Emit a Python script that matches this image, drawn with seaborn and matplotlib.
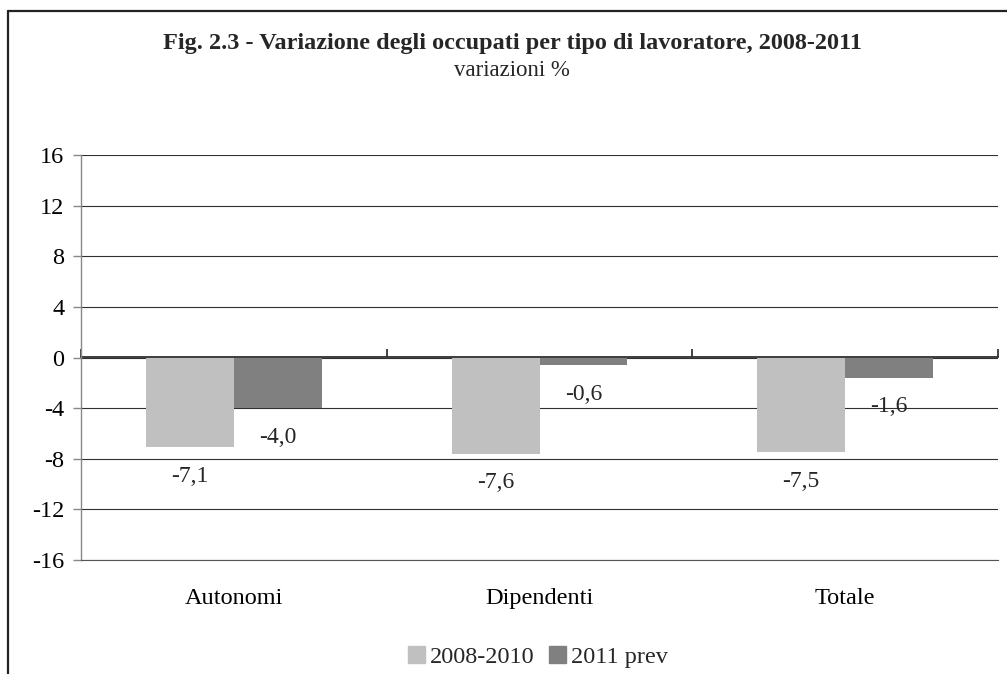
import pandas as pd
import matplotlib
matplotlib.use("Agg")
import matplotlib.pyplot as plt
from matplotlib.lines import Line2D
import seaborn as sns

categories = ["Autonomi", "Dipendenti", "Totale"]
series = ["2008-2010", "2011 prev"]
values_2008_2010 = [-7.1, -7.6, -7.5]
values_2011_prev = [-4.0, -0.6, -1.6]
y_ticks = [-16, -12, -8, -4, 0, 4, 8, 12, 16]

colors = {"2008-2010": "#c0c0c0", "2011 prev": "#808080"}


def main():
    df = pd.DataFrame({
        "categoria": categories * 2,
        "serie": [series[0]] * 3 + [series[1]] * 3,
        "valore": values_2008_2010 + values_2011_prev,
    })

    sns.set_theme(style="white")
    plt.rcParams["font.family"] = ["Liberation Serif", "DejaVu Serif"]

    fig = plt.figure(figsize=(10.07, 6.74), dpi=100)
    ax = fig.add_axes([81 / 1007, 1 - 560 / 674, (998 - 81) / 1007, (560 - 155) / 674])

    sns.barplot(data=df, x="categoria", y="valore", hue="serie", order=categories,
                hue_order=series, palette=colors, width=0.575, saturation=1,
                edgecolor="none", linewidth=0, ax=ax, legend=False, zorder=3)

    ax.set_xlim(-0.5, 2.5)
    ax.set_ylim(-16, 16)
    ax.set_yticks(y_ticks)
    ax.set_yticklabels([str(t) for t in y_ticks])
    ax.yaxis.grid(True, color="#303030", linewidth=0.8, zorder=0)
    ax.xaxis.grid(False)
    ax.set_xlabel("")
    ax.set_ylabel("")

    for s in ["top", "right"]:
        ax.spines[s].set_visible(False)
    ax.spines["bottom"].set_color("#555555")
    ax.spines["bottom"].set_linewidth(0.8)
    ax.spines["left"].set_color("#888888")
    ax.spines["left"].set_linewidth(1.0)

    ax.tick_params(axis="y", which="both", left=True, length=6, width=1,
                   color="#888888", labelsize=17.5, pad=6, labelcolor="black")
    ax.tick_params(axis="x", which="both", bottom=False, labelsize=17.5,
                   pad=14, labelcolor="black")

    # asse delle categorie sullo zero
    sec = ax.secondary_xaxis(0.5)
    sec.set_xticks([-0.5, 0.5, 1.5, 2.5])
    sec.set_xticklabels([])
    sec.spines["bottom"].set_color("#888888")
    sec.spines["bottom"].set_linewidth(1.5)
    sec.tick_params(axis="x", direction="out", length=6, width=1.2, color="#222222")

    # etichette dei valori
    for container in ax.containers:
        for bar in container:
            h = bar.get_height()
            ax.annotate(f"{h:.1f}".replace(".", ","),
                        (bar.get_x() + bar.get_width() / 2, h),
                        xytext=(0, -21), textcoords="offset points",
                        ha="center", va="center", fontsize=17, zorder=5)

    fig.text(512 / 1007, 1 - 43 / 674,
             "Fig. 2.3 - Variazione degli occupati per tipo di lavoratore, 2008-2011",
             ha="center", va="center", fontsize=17.5, fontweight="bold")
    fig.text(512 / 1007, 1 - 71 / 674, "variazioni %",
             ha="center", va="center", fontsize=16.5)

    handles = [plt.Rectangle((0, 0), 1, 1, color=colors[s]) for s in series]
    fig.legend(handles, series, loc="center", bbox_to_anchor=(538 / 1007, 1 - 657 / 674),
               ncol=2, frameon=False, fontsize=17.5, handlelength=0.7, handleheight=0.7,
               handletextpad=0.2, columnspacing=0.6, borderpad=0)

    # cornice del grafico
    fig.add_artist(Line2D([8 / 1007, 1.0], [1 - 11 / 674, 1 - 11 / 674],
                          transform=fig.transFigure, color="#222222", linewidth=1.6))
    fig.add_artist(Line2D([8 / 1007, 8 / 1007], [1 - 11 / 674, 0.0],
                          transform=fig.transFigure, color="#222222", linewidth=1.6))

    fig.savefig("out.png", dpi=100)
    plt.close(fig)


if __name__ == "__main__":
    main()
